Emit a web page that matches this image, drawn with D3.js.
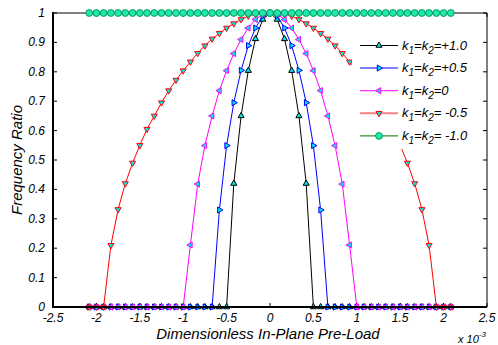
<!DOCTYPE html>
<html>
<head>
<meta charset="utf-8">
<script src="https://cdn.jsdelivr.net/npm/d3@7"></script>
<style>
	body { margin: 0; background: #fff; }
	svg { display: block; font-family: Arial, "Liberation Sans", sans-serif; font-style: italic; }
</style>
</head>
<body>
<svg id="chart" width="498" height="345"></svg>
<script>
// Dimensionless in-plane pre-load (x 10^-3), shared by all curves
const xGrid = [-2.083, -2, -1.917, -1.833, -1.75, -1.667, -1.583, -1.5, -1.417, -1.333, -1.25, -1.167, -1.083,
	-1, -0.917, -0.833, -0.75, -0.667, -0.583, -0.5, -0.417, -0.333, -0.25, -0.167, -0.083, 0,
	0.083, 0.167, 0.25, 0.333, 0.417, 0.5, 0.583, 0.667, 0.75, 0.833, 0.917, 1, 1.083, 1.167,
	1.25, 1.333, 1.417, 1.5, 1.583, 1.667, 1.75, 1.833, 1.917, 2, 2.083]

const kPlus10 = [0, 0, 0, 0, 0, 0, 0, 0, 0, 0, 0, 0, 0, 0, 0, 0, 0, 0, 0, 0,
	0.42, 0.65, 0.804, 0.912, 0.978, 1, 0.978, 0.912, 0.804, 0.65, 0.42,
	0, 0, 0, 0, 0, 0, 0, 0, 0, 0, 0, 0, 0, 0, 0, 0, 0, 0, 0, 0]
const kPlus05 = [0, 0, 0, 0, 0, 0, 0, 0, 0, 0, 0, 0, 0, 0, 0, 0, 0, 0,
	0.33, 0.549, 0.695, 0.805, 0.889, 0.949, 0.99, 1, 0.99, 0.949, 0.889, 0.805, 0.695, 0.549, 0.33,
	0, 0, 0, 0, 0, 0, 0, 0, 0, 0, 0, 0, 0, 0, 0, 0, 0, 0]
const kZero = [0, 0, 0, 0, 0, 0, 0, 0, 0, 0, 0, 0, 0, 0,
	0.211, 0.418, 0.549, 0.65, 0.736, 0.804, 0.862, 0.91, 0.949, 0.978, 0.996, 1,
	0.996, 0.978, 0.949, 0.91, 0.862, 0.804, 0.736, 0.65, 0.549, 0.418, 0.211,
	0, 0, 0, 0, 0, 0, 0, 0, 0, 0, 0, 0, 0, 0]
const kMinus05 = [0, 0, 0,
	0.21, 0.332, 0.42, 0.49, 0.55, 0.605, 0.65, 0.695, 0.736, 0.772, 0.804, 0.834, 0.863, 0.889,
	0.912, 0.931, 0.949, 0.964, 0.978, 0.99, 0.996, 0.999, 1,
	0.999, 0.996, 0.99, 0.978, 0.964, 0.949, 0.931, 0.912, 0.889, 0.863, 0.834, 0.804, 0.772,
	0.736, 0.695, 0.65, 0.605, 0.55, 0.49, 0.42, 0.332, 0.21,
	0, 0, 0]
const kMinus10 = [1, 1, 1, 1, 1, 1, 1, 1, 1, 1, 1, 1, 1, 1, 1, 1, 1, 1, 1, 1, 1, 1, 1, 1, 1,
	1, 1, 1, 1, 1, 1, 1, 1, 1, 1, 1, 1, 1, 1, 1, 1, 1, 1, 1, 1, 1, 1, 1, 1, 1, 1]

const legendLabels = ["=+1.0", "=+0.5", "=0", "= -0.5", "= -1.0"]
const xTicks = [-2.5, -2, -1.5, -1, -0.5, 0, 0.5, 1, 1.5, 2, 2.5]
const yTicks = [0, 0.1, 0.2, 0.3, 0.4, 0.5, 0.6, 0.7, 0.8, 0.9, 1]

// Plot order matters: later series sit on top along the zero line
const series = [
	{ values: kPlus10, colour: "#000", legendColour: "#000", legendWidth: 1, marker: "up" },
	{ values: kPlus05, colour: "#0000ff", legendColour: "#7f7fff", legendWidth: 2, marker: "right" },
	{ values: kZero, colour: "#ff00ff", legendColour: "#ff00ff", legendWidth: 1, marker: "left" },
	{ values: kMinus05, colour: "#ff0000", legendColour: "#ff8080", legendWidth: 2, marker: "down" },
	{ values: kMinus10, colour: "#008a40", legendColour: "#007000", legendWidth: 1, marker: "circle" },
]
series.forEach((s, i) => s.label = legendLabels[i])

const svg = d3.select("#chart")
const margin = { left: 53, right: 11, top: 13, bottom: 38 }
const W = 498, H = 345

const x = d3.scaleLinear()
	.domain([-2.5, 2.5])
	.range([margin.left, W - margin.right])
const y = d3.scaleLinear()
	.domain([0, 1])
	.range([H - margin.bottom, margin.top])

const markerFill = "#00e6e6"
const circleFill = "#22e6b4"
const triangle = d3.symbol(d3.symbolTriangle, 16)()
const rotation = { up: 0, right: 90, down: 180, left: 270 }

function drawMarker(g, s) {
	if (s.marker === "circle") {
		g.append("circle")
			.attr("r", 3.4)
			.attr("fill", circleFill)
			.attr("stroke", "#00a050")
			.attr("stroke-width", 1)
	} else {
		g.append("path")
			.attr("d", triangle)
			.attr("transform", `rotate(${rotation[s.marker]})`)
			.attr("fill", markerFill)
			.attr("stroke", s.colour)
			.attr("stroke-width", 1)
	}
}

// Axis box: ticks point inwards on all four sides
const frame = svg.append("g").attr("class", "frame")
const x0 = x.range()[0], x1 = x.range()[1]
const y0 = y.range()[0], y1 = y.range()[1]
frame.selectAll("line.xtick")
	.data(xTicks)
	.join("line")
	.attr("class", "xtick")
	.attr("x1", d => x(d)).attr("x2", d => x(d))
	.attr("y1", y0).attr("y2", y0 - 4)
	.attr("stroke", "#000")
frame.selectAll("line.xtickTop")
	.data(xTicks)
	.join("line")
	.attr("class", "xtickTop")
	.attr("x1", d => x(d)).attr("x2", d => x(d))
	.attr("y1", y1).attr("y2", y1 + 4)
	.attr("stroke", "#000")
frame.selectAll("line.ytick")
	.data(yTicks)
	.join("line")
	.attr("class", "ytick")
	.attr("x1", x0).attr("x2", x0 + 4)
	.attr("y1", d => y(d)).attr("y2", d => y(d))
	.attr("stroke", "#000")
frame.selectAll("line.ytickRight")
	.data(yTicks)
	.join("line")
	.attr("class", "ytickRight")
	.attr("x1", x1).attr("x2", x1 - 4)
	.attr("y1", d => y(d)).attr("y2", d => y(d))
	.attr("stroke", "#000")
frame.append("line")
	.attr("x1", x0).attr("x2", x1).attr("y1", y1).attr("y2", y1)
	.attr("stroke", "#000").attr("stroke-width", 1)
frame.append("line")
	.attr("x1", x1).attr("x2", x1).attr("y1", y1).attr("y2", y0)
	.attr("stroke", "#000").attr("stroke-width", 1)

// Curves
const line = d3.line()
	.x((d, i) => x(xGrid[i]))
	.y(d => y(d))

const curves = svg.append("g").attr("class", "curves")
series.forEach(s => {
	let g = curves.append("g")
	g.append("path")
		.attr("d", line(s.values))
		.attr("fill", "none")
		.attr("stroke", s.colour)
		.attr("stroke-width", 1)
	g.selectAll("g.marker")
		.data(s.values)
		.join("g")
		.attr("class", "marker")
		.attr("transform", (d, i) => `translate(${x(xGrid[i])},${y(d)})`)
		.each(function() { drawMarker(d3.select(this), s) })
})

// Thick left and bottom axes, markers stay on top
svg.append("line")
	.attr("x1", x0).attr("x2", x0).attr("y1", y1 - 1).attr("y2", y0 + 1)
	.attr("stroke", "#000").attr("stroke-width", 2)
svg.append("line")
	.attr("x1", x0 - 1).attr("x2", x1).attr("y1", y0).attr("y2", y0)
	.attr("stroke", "#000").attr("stroke-width", 2)
curves.selectAll("g.marker").raise()

// Tick labels
svg.append("g")
	.selectAll("text")
	.data(xTicks)
	.join("text")
	.attr("x", d => x(d))
	.attr("y", y0 + 14.5)
	.attr("text-anchor", "middle")
	.attr("font-size", 12)
	.text(d => d)
svg.append("g")
	.selectAll("text")
	.data(yTicks)
	.join("text")
	.attr("x", x0 - 8)
	.attr("y", d => y(d) + 4)
	.attr("text-anchor", "end")
	.attr("font-size", 12)
	.text(d => d)

// Axis titles
svg.append("text")
	.attr("x", 268)
	.attr("y", 339)
	.attr("text-anchor", "middle")
	.attr("font-size", 15)
	.text("Dimensionless In-Plane Pre-Load")
svg.append("text")
	.attr("transform", `translate(22,${(y0 + y1) / 2}) rotate(-90)`)
	.attr("text-anchor", "middle")
	.attr("font-size", 15)
	.text("Frequency Ratio")
let mult = svg.append("text")
	.attr("x", 458)
	.attr("y", 343)
	.attr("font-size", 11)
mult.append("tspan").text("x 10")
mult.append("tspan").attr("dy", -6).attr("font-size", 8).text("-3")

// Legend, white box without border hides part of the red curve
let legend = svg.append("g").attr("class", "legend")
legend.append("rect")
	.attr("x", 352).attr("y", 33)
	.attr("width", 128).attr("height", 116)
	.attr("fill", "#fff")
series.forEach((s, i) => {
	let ly = 45.5 + i * 22.6
	let row = legend.append("g")
	row.append("line")
		.attr("x1", 360).attr("x2", 398)
		.attr("y1", ly).attr("y2", ly)
		.attr("stroke", s.legendColour)
		.attr("stroke-width", s.legendWidth)
	let m = row.append("g").attr("transform", `translate(379,${ly})`)
	drawMarker(m, s)
	let t = row.append("text")
		.attr("x", 402)
		.attr("y", ly + 4)
		.attr("font-size", 13)
	t.append("tspan").text("k")
	t.append("tspan").attr("dy", 4).attr("font-size", 10).text("1")
	t.append("tspan").attr("dy", -4).text("=k")
	t.append("tspan").attr("dy", 4).attr("font-size", 10).text("2")
	t.append("tspan").attr("dy", -4).text(s.label)
})
</script>
</body>
</html>
